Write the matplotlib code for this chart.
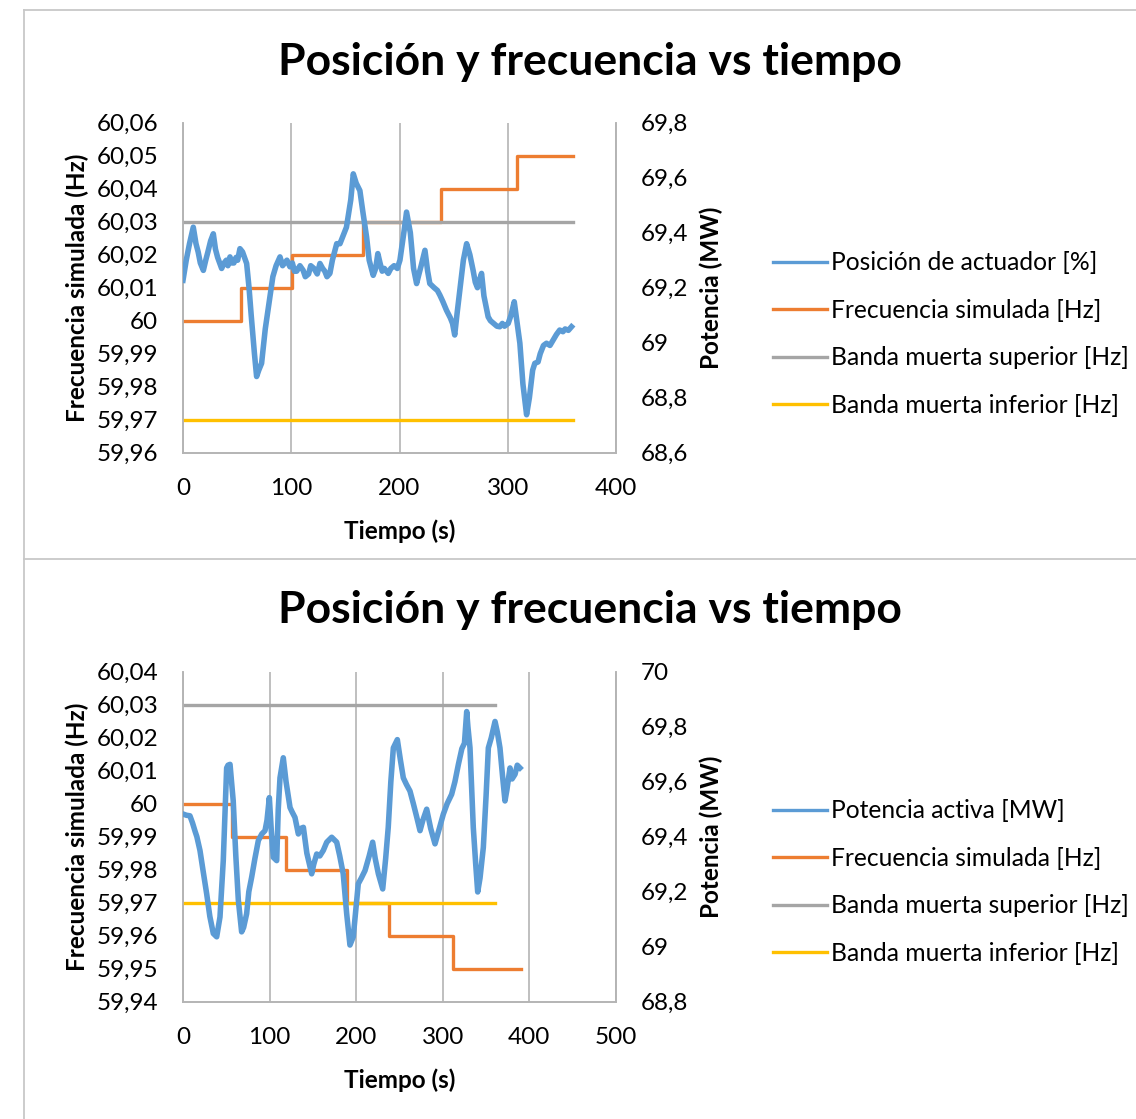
import matplotlib
matplotlib.use("Agg")
import matplotlib.pyplot as plt
from matplotlib.lines import Line2D
from matplotlib.ticker import FuncFormatter, MultipleLocator

plt.rcParams['font.family'] = ['Lato', 'DejaVu Sans']

BLUE = "#5B9BD5"
ORANGE = "#ED7D31"
GRAY = "#A5A5A5"
YELLOW = "#FFC000"
AXGRAY = "#B4B4B4"

TITLE = "Posición y frecuencia vs tiempo"

# --- chart 1 ---
top_t = [0, 3, 6, 9.5, 12, 14, 16, 18.8, 21, 23, 25.5, 28, 30, 32, 35.7, 38, 40, 41.5,
         43.4, 45, 47, 49, 50.5, 52.6, 55, 58.8, 61, 63, 66, 68, 70, 72.6, 76, 80.3, 83,
         86, 89.6, 92, 94, 96, 98.8, 101, 103, 105, 108, 111, 113, 116, 118, 121, 124,
         126.5, 129, 131, 133, 135.7, 138, 142, 145, 147, 151, 155, 157.3, 160, 163.4, 166,
         169.6, 172, 175.7, 178, 180, 182, 184, 186, 189.6, 192, 195, 198, 200.4, 204,
         206.5, 210, 213, 215.8, 218, 220, 223.5, 226, 228, 232, 235, 237.3, 240, 243.4,
         247, 249, 251, 253, 256, 259, 262, 265, 268, 270, 272, 274, 275.8, 278, 281.9,
         284, 287, 290, 292.7, 295, 297, 300.4, 303, 306, 308, 311.2, 314, 317.4, 320,
         323, 325, 328, 330, 333, 335.8, 339, 342, 345, 348, 351, 353, 356, 358.9]
top_pos = [69.227, 69.30, 69.36, 69.42, 69.36, 69.33, 69.29, 69.263, 69.30, 69.33, 69.37,
           69.396, 69.34, 69.31, 69.27, 69.29, 69.30, 69.28, 69.312, 69.29, 69.29, 69.31,
           69.30, 69.342, 69.33, 69.288, 69.20, 69.10, 68.96, 68.877, 68.90, 68.925,
           69.05, 69.167, 69.24, 69.28, 69.312, 69.28, 69.29, 69.30, 69.276, 69.29, 69.26,
           69.26, 69.28, 69.263, 69.24, 69.25, 69.28, 69.27, 69.25, 69.288, 69.27, 69.26,
           69.24, 69.252, 69.30, 69.36, 69.36, 69.38, 69.42, 69.52, 69.614, 69.58, 69.553,
           69.48, 69.384, 69.30, 69.245, 69.27, 69.324, 69.29, 69.26, 69.27, 69.252,
           69.27, 69.28, 69.27, 69.30, 69.40, 69.475, 69.40, 69.27, 69.215, 69.25, 69.28,
           69.336, 69.26, 69.215, 69.20, 69.19, 69.173, 69.15, 69.118, 69.09, 69.07,
           69.028, 69.10, 69.20, 69.30, 69.36, 69.32, 69.263, 69.22, 69.20, 69.23, 69.252,
           69.17, 69.094, 69.08, 69.07, 69.06, 69.058, 69.07, 69.06, 69.07, 69.10, 69.149,
           69.09, 68.998, 68.85, 68.738, 68.80, 68.90, 68.925, 68.93, 68.96, 68.99, 68.998,
           68.99, 69.01, 69.03, 69.046, 69.04, 69.05, 69.045, 69.058]
top_step_t = [0, 54, 101, 166, 238, 309, 360]
top_step_f = [60.00, 60.01, 60.02, 60.03, 60.04, 60.05, 60.05]
top_band_t = [0, 360]
top_sup = [60.03, 60.03]
top_inf = [59.97, 59.97]
top_labels = ["Posición de actuador [%]", "Frecuencia simulada [Hz]",
              "Banda muerta superior [Hz]", "Banda muerta inferior [Hz]"]

# --- chart 2 ---
bot_t = [0.4, 4, 8, 11, 13.9, 16, 19.6, 23, 27.3, 31, 35, 38.9, 42.7, 46.5, 50.4, 52,
         54.3, 58, 61, 63.9, 67.7, 70, 73.5, 76, 79.3, 83, 87, 91, 94.7, 97, 99.7, 102,
         104.3, 108.2, 110, 112, 115.8, 119, 123.6, 126, 129.3, 133.2, 136, 139, 143,
         148.6, 151, 154.4, 158, 162, 166, 171.7, 177.5, 181, 185, 189, 192.8, 196.6,
         202.4, 206, 210.2, 215, 219, 222, 225.6, 230.6, 234, 237, 240, 242.9, 247.5, 251,
         254.4, 258, 262.1, 266, 270, 273.7, 277, 281.4, 286, 291, 296, 300.6, 305, 310.2,
         314, 318, 322, 325, 327.6, 329, 331.4, 335.2, 338, 340.3, 343, 346.8, 350, 352.6,
         356, 360.3, 363, 366, 369, 371.8, 374, 377.6, 380, 383.4, 386, 389.1]
bot_pot = [69.482, 69.478, 69.476, 69.45, 69.42, 69.40, 69.35, 69.28, 69.193, 69.11,
           69.048, 69.036, 69.108, 69.313, 69.65, 69.66, 69.663, 69.53, 69.33, 69.169,
           69.054, 69.07, 69.12, 69.20, 69.253, 69.32, 69.386, 69.41, 69.422, 69.46,
           69.542, 69.42, 69.325, 69.313, 69.50, 69.614, 69.687, 69.60, 69.506, 69.49,
           69.47, 69.41, 69.43, 69.434, 69.34, 69.265, 69.30, 69.337, 69.33, 69.35, 69.38,
           69.398, 69.38, 69.33, 69.265, 69.12, 69.006, 69.036, 69.229, 69.25, 69.277,
           69.33, 69.38, 69.32, 69.265, 69.21, 69.32, 69.434, 69.60, 69.723, 69.753,
           69.68, 69.614, 69.59, 69.566, 69.52, 69.47, 69.422, 69.46, 69.50, 69.43, 69.374,
           69.43, 69.482, 69.52, 69.554, 69.60, 69.663, 69.72, 69.74, 69.855, 69.80,
           69.723, 69.434, 69.30, 69.199, 69.25, 69.361, 69.55, 69.723, 69.76, 69.819,
           69.78, 69.723, 69.62, 69.53, 69.57, 69.65, 69.61, 69.627, 69.66, 69.65]
bot_step_t = [0, 57, 119, 189, 238, 312, 390]
bot_step_f = [60.00, 59.99, 59.98, 59.97, 59.96, 59.95, 59.95]
bot_band_t = [0, 360]
bot_sup = [60.03, 60.03]
bot_inf = [59.97, 59.97]
bot_labels = ["Potencia activa [MW]", "Frecuencia simulada [Hz]",
              "Banda muerta superior [Hz]", "Banda muerta inferior [Hz]"]

W, H = 1136, 1119


def fmt(v, pos):
    return ("%g" % round(v, 4)).replace(".", ",")


def make_chart(rect, t, blue, st, sf, bt, sup, inf, labels,
               xmax, ylim, y2lim, title_y, leg_y):
    ax = fig.add_axes(rect)
    ax.plot(st, sf, color=ORANGE, lw=2.4, drawstyle="steps-post", zorder=3)
    ax.plot(bt, sup, color=GRAY, lw=2.4, zorder=4)
    ax.plot(bt, inf, color=YELLOW, lw=2.4, zorder=5)
    ax.set_xlim(0, xmax)
    ax.set_ylim(*ylim)
    ax.xaxis.set_major_locator(MultipleLocator(100))
    ax.yaxis.set_major_locator(MultipleLocator(0.01))
    ax.yaxis.set_major_formatter(FuncFormatter(fmt))
    ax.grid(axis="x", color=AXGRAY, lw=1.2)
    ax.set_axisbelow(True)
    ax.tick_params(length=0, labelsize=17.5, pad=18)
    ax.set_xlabel("Tiempo (s)", fontsize=17.5, fontweight="bold", labelpad=15)
    ax.set_ylabel("Frecuencia simulada (Hz)", fontsize=17.5, fontweight="bold", labelpad=5)

    ax2 = ax.twinx()
    ax2.plot(t, blue, color=BLUE, lw=4.0, solid_joinstyle="round", zorder=6)
    ax2.set_ylim(*y2lim)
    ax2.yaxis.set_major_locator(MultipleLocator(0.2))
    ax2.yaxis.set_major_formatter(FuncFormatter(fmt))
    ax2.tick_params(length=0, labelsize=17.5, pad=18)
    ax2.set_ylabel("Potencia (MW)", fontsize=17.5, fontweight="bold", labelpad=8)

    for a in (ax, ax2):
        a.spines["top"].set_visible(False)
        for s in ("left", "right", "bottom"):
            a.spines[s].set_color(AXGRAY)
            a.spines[s].set_linewidth(1.2)

    fig.text(590 / W, title_y, TITLE, ha="center", va="center",
             fontsize=32, fontweight="bold")

    handles = [Line2D([], [], color=c, lw=2.4) for c in (BLUE, ORANGE, GRAY, YELLOW)]
    fig.legend(handles, labels, loc="center left", bbox_to_anchor=(773 / W, leg_y),
               frameon=False, fontsize=17.7, handlelength=2.2, handletextpad=0.15,
               labelspacing=1.0, borderaxespad=0, borderpad=0)
    return ax, ax2


fig = plt.figure(figsize=(W / 100, H / 100), dpi=100)

make_chart([183 / W, 1 - 452.7 / H, 433 / W, 330 / H],
           top_t, top_pos, top_step_t, top_step_f, top_band_t, top_sup, top_inf,
           top_labels, 400, (59.96, 60.06), (68.6, 69.8), 1 - 62 / H, 1 - 334 / H)

make_chart([183 / W, 1 - 1001.7 / H, 433 / W, 330 / H],
           bot_t, bot_pot, bot_step_t, bot_step_f, bot_band_t, bot_sup, bot_inf,
           bot_labels, 500, (59.94, 60.04), (68.8, 70.0), 1 - 610 / H, 1 - 882 / H)

# chart borders
frame = dict(color="#C8C8C8", lw=1.3, transform=fig.transFigure)
fig.add_artist(Line2D([23.5 / W, 23.5 / W], [0, 1 - 10 / H], **frame))
fig.add_artist(Line2D([23.5 / W, 1], [1 - 10 / H, 1 - 10 / H], **frame))
fig.add_artist(Line2D([23.5 / W, 1], [1 - 559 / H, 1 - 559 / H], **frame))

fig.savefig("out.png", dpi=100)
